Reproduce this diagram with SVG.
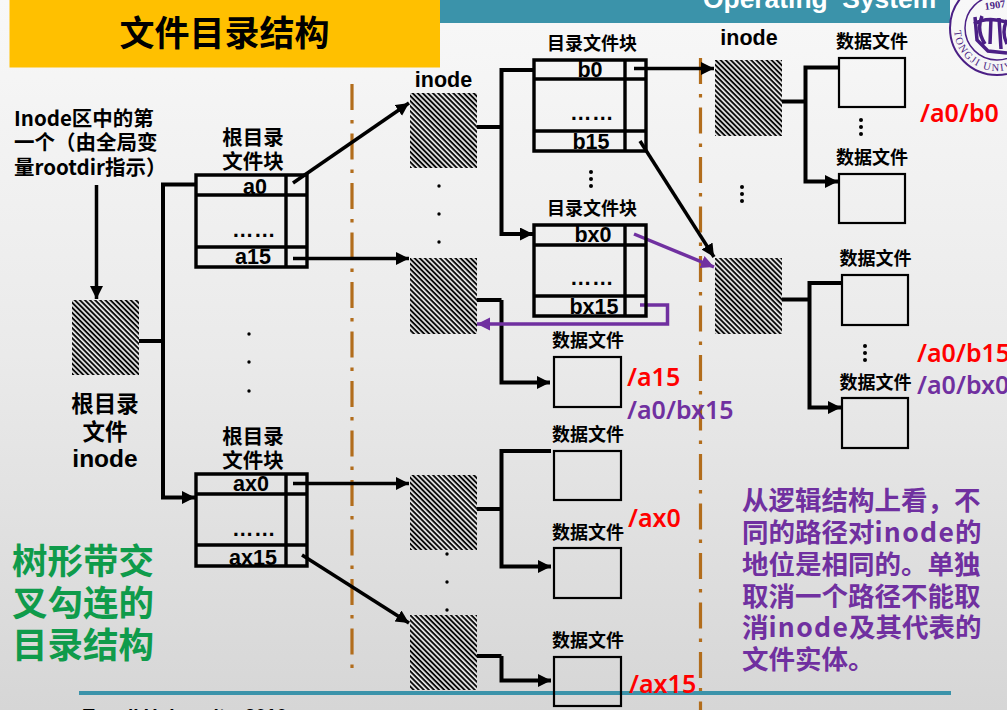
<svg xmlns="http://www.w3.org/2000/svg" width="1007" height="710" viewBox="0 0 1007 710">
<defs>
<linearGradient id="bg" x1="0" y1="0" x2="0" y2="1"><stop offset="0" stop-color="#f8f8f8"/><stop offset="0.5" stop-color="#eaeaea"/><stop offset="1" stop-color="#d6d6d6"/></linearGradient>
<pattern id="hatch" width="3.6" height="3.6" patternUnits="userSpaceOnUse" patternTransform="rotate(45)"><rect width="3.6" height="3.6" fill="#e8e8e8"/><rect width="3.6" height="1.9" y="0" fill="#0a0a0a"/></pattern>
<marker id="ah" markerUnits="userSpaceOnUse" markerWidth="15" markerHeight="14" refX="13" refY="6.500" orient="auto"><path d="M0 0L13 6.500L0 13Z" fill="#000"/></marker>
<marker id="ahp" markerUnits="userSpaceOnUse" markerWidth="15" markerHeight="14" refX="13" refY="6.500" orient="auto"><path d="M0 0L13 6.500L0 13Z" fill="#7030a0"/></marker>
<path id="arcB" d="M954 28A43 43 0 0 0 1040 28"/>
</defs>
<style>
text{font-family:"Noto Sans CJK SC","Liberation Sans",sans-serif;font-weight:700;fill:#000}
.hb{fill:url(#hatch)}
.tb{fill:none;stroke:#000;stroke-width:3.4}
.df{fill:none;stroke:#000;stroke-width:2.200}
.cn{fill:none;stroke:#000;stroke-width:3.500;marker-end:url(#ah)}
.ce{fill:none;stroke:#000;stroke-width:4;marker-end:url(#ah)}
.cnt{fill:none;stroke:#000;stroke-width:4}
.cp{fill:none;stroke:#7030a0;stroke-width:3.500;marker-end:url(#ahp)}
.axis{fill:none;stroke:#b26d1c;stroke-width:3.2;stroke-dasharray:26 10 3.5 10}
.lab{font-size:18px;text-anchor:middle}
.h2{font-size:20.500px;text-anchor:middle}
.cell{font-family:"Liberation Sans",sans-serif;font-size:21.500px;text-anchor:middle}
.dots{font-family:"Liberation Sans",sans-serif;font-size:21.500px;text-anchor:middle}
.in{font-family:"Liberation Sans",sans-serif}
.r,.p{font-family:"Noto Sans",sans-serif;font-weight:600;font-size:25px}
.r{fill:#ff0000}
.p{fill:#7030a0}
.body{fill:#7030a0;font-size:26.500px}
.g{fill:#0f9b4b;font-size:35.500px}
.dot{fill:#000}
.logo-t{fill:#4b1f85;font-family:"Liberation Serif",serif;font-weight:400;font-size:10.500px}
</style>
<rect width="1007" height="710" fill="url(#bg)"/>
<g id="header">
<rect x="440" y="0" width="510" height="23" fill="#3b93aa"/>
<text class="in" x="703" y="8" style="fill:#fff;font-size:26.400px" xml:space="preserve">Operating  System</text>
<rect x="9.500" y="0" width="430.500" height="67.500" fill="#ffc000"/>
<text x="224.500" y="46" text-anchor="middle" font-size="35">文件目录结构</text>
</g>
<g id="logo" fill="none" stroke="#4b1f85">
<circle cx="997" cy="28" r="47" stroke-width="2"/>
<circle cx="997" cy="28" r="32" stroke-width="1.500"/>
<path d="M975 17L977 40L988 51L1007 53M982 16Q976 30 985 44M991 18L990 44M999 18L1001 49M1007 20Q1001 32 1007 44M974 24Q986 16 1007 22" stroke-width="3.500"/>
<text class="logo-t" x="985" y="10" transform="rotate(-8 985 10)" stroke="none" style="font-weight:700">1907</text>
<text class="logo-t" stroke="none" letter-spacing="1.500"><textPath href="#arcB" startOffset="3">TONGJI UNIVERSITY</textPath></text>
</g>
<g id="axes">
<path class="axis" d="M352 84V668"/>
<path class="axis" d="M700.500 58V710"/>
</g>
<rect id="footer-rule" x="79" y="691" width="872" height="4" fill="#3b93aa"/>
<text id="footer" class="in" x="83" y="722" font-size="19">Tongji University, 2010</text>
<g id="connectors">
<path class="cn" d="M96.500 185V299"/>
<path class="cnt" d="M139 341H163"/>
<path class="ce" d="M195 184.500H163V497.500H195"/>
<path class="cn" d="M293 183L409 103"/>
<path class="cn" d="M293 258.500H409"/>
<path class="cn" d="M293 483.500H409"/>
<path class="cn" d="M302 555L409 623"/>
<path class="cnt" d="M477 127H501.500"/>
<path class="ce" d="M533 70H501.500V234H533"/>
<path class="cn" d="M634 68.500H714"/>
<path class="cn" d="M640 141L714 257"/>
<path class="cnt" d="M477 300H501.500"/>
<path class="ce" d="M501.500 300V382.500H550"/>
<path class="cnt" d="M477 509H501.500"/>
<path class="ce" d="M551 451H501.500V566.500H551"/>
<path class="cnt" d="M477 656H501.500"/>
<path class="ce" d="M501.500 656V680.500H551"/>
<path class="cnt" d="M782 101.500H805.500"/>
<path class="ce" d="M838 67.500H805.500V181.500H838"/>
<path class="cnt" d="M782 299.500H809.500"/>
<path class="ce" d="M841 283H809.500V407.500H841"/>
<path class="cp" d="M634 234L714 267"/>
<path class="cp" d="M640 305H667.500V324H477"/>
</g>
<g id="root-inode"><rect class="hb" x="72" y="300" width="67" height="75"/>
<text x="105" y="412" text-anchor="middle" font-size="22.500">根目录</text>
<text x="105" y="440" text-anchor="middle" font-size="22.500">文件</text>
<text class="in" x="105" y="467" text-anchor="middle" font-size="24.500">inode</text></g>
<g id="root-note" font-size="20.500">
<text x="14" y="126">Inode区中的第</text>
<text x="14" y="150">一个（由全局变</text>
<text x="14" y="175">量rootdir指示）</text>
</g>
<g id="dir-a"><text x="253" y="145" class="h2">根目录</text><text x="253" y="169" class="h2">文件块</text>
<path class="tb" d="M196 175H307V267H196ZM196 195H307M196 247H307M286 175V267"/>
<text x="255" y="194" class="cell">a0</text><text x="253" y="264" class="cell">a15</text><text x="254" y="237" class="dots" letter-spacing="0.500">……</text></g>
<g id="dir-ax"><text x="253" y="444" class="h2">根目录</text><text x="253" y="468" class="h2">文件块</text>
<path class="tb" d="M196 474H307V566H196ZM196 494H307M196 545H307M286 474V566"/>
<text x="251" y="491" class="cell">ax0</text><text x="253" y="565" class="cell">ax15</text><text x="254" y="536" class="dots" letter-spacing="0.500">……</text></g>
<g id="dir-b"><text x="592" y="50" class="lab">目录文件块</text>
<path class="tb" d="M534 60H646V151H534ZM534 79H646M534 131H646M625 60V151"/>
<text x="590" y="77" class="cell">b0</text><text x="591" y="149" class="cell">b15</text><text x="592" y="120" class="dots" letter-spacing="0.500">……</text></g>
<g id="dir-bx"><text x="592" y="215" class="lab">目录文件块</text>
<path class="tb" d="M534 225H646V316H534ZM534 245H646M534 296H646M625 225V316"/>
<text x="593" y="242" class="cell">bx0</text><text x="594" y="314" class="cell">bx15</text><text x="592" y="285" class="dots" letter-spacing="0.500">……</text></g>
<g id="inode-1"><text class="in" x="443.500" y="87" text-anchor="middle" font-size="21.500">inode</text><rect class="hb" x="410" y="93" width="67" height="75"/></g>
<g id="inode-2"><rect class="hb" x="410" y="258" width="67" height="76"/></g>
<g id="inode-3"><rect class="hb" x="410" y="475" width="67" height="75"/></g>
<g id="inode-4"><rect class="hb" x="410" y="615" width="67" height="75"/></g>
<g id="inode-5"><text class="in" x="749" y="45" text-anchor="middle" font-size="21.500">inode</text><rect class="hb" x="715" y="60" width="67" height="76"/></g>
<g id="inode-6"><rect class="hb" x="715" y="258" width="67" height="76"/></g>
<g id="file-1"><text x="872" y="48" class="lab">数据文件</text><rect class="df" x="839" y="58" width="66" height="49"/></g>
<g id="file-2"><text x="872" y="164" class="lab">数据文件</text><rect class="df" x="839" y="174" width="66" height="49"/></g>
<g id="file-3"><text x="875.500" y="265" class="lab">数据文件</text><rect class="df" x="842" y="275" width="66" height="50"/></g>
<g id="file-4"><text x="875.500" y="389" class="lab">数据文件</text><rect class="df" x="842" y="398" width="66" height="50"/></g>
<g id="file-5"><text x="588" y="347" class="lab">数据文件</text><rect class="df" x="554" y="357" width="67" height="50"/></g>
<g id="file-6"><text x="588" y="441" class="lab">数据文件</text><rect class="df" x="554" y="451" width="67" height="49"/></g>
<g id="file-7"><text x="588" y="539" class="lab">数据文件</text><rect class="df" x="554" y="548" width="67" height="50"/></g>
<g id="file-8"><text x="588" y="647" class="lab">数据文件</text><rect class="df" x="554" y="657" width="67" height="49"/></g>
<g id="ellipsis">
<circle class="dot" cx="249" cy="334" r="1.700"/><circle class="dot" cx="249" cy="362" r="1.700"/><circle class="dot" cx="249" cy="391" r="1.700"/>
<circle class="dot" cx="439" cy="186" r="1.700"/><circle class="dot" cx="439" cy="214" r="1.700"/><circle class="dot" cx="439" cy="242" r="1.700"/>
<circle class="dot" cx="447" cy="554" r="1.700"/><circle class="dot" cx="447" cy="582" r="1.700"/><circle class="dot" cx="447" cy="610" r="1.700"/>
<circle class="dot" cx="591" cy="172" r="2"/><circle class="dot" cx="591" cy="179" r="2"/><circle class="dot" cx="591" cy="186" r="2"/>
<circle class="dot" cx="742" cy="187" r="2"/><circle class="dot" cx="742" cy="194" r="2"/><circle class="dot" cx="742" cy="201" r="2"/>
<circle class="dot" cx="861" cy="120" r="2"/><circle class="dot" cx="861" cy="127" r="2"/><circle class="dot" cx="861" cy="134" r="2"/>
<circle class="dot" cx="865" cy="346" r="2"/><circle class="dot" cx="865" cy="353" r="2"/><circle class="dot" cx="865" cy="360" r="2"/>
</g>
<g id="paths">
<text class="r" x="920" y="122">/a0/b0</text>
<text class="r" x="917" y="362">/a0/b15</text>
<text class="p" x="917" y="394">/a0/bx0</text>
<text class="r" x="627" y="386">/a15</text>
<text class="p" x="627" y="419">/a0/bx15</text>
<text class="r" x="628" y="527">/ax0</text>
<text class="r" x="629" y="693">/ax15</text>
</g>
<g id="note-right">
<text class="body" x="742" y="510">从逻辑结构上看，不</text>
<text class="body" x="742" y="542">同的路径对<tspan letter-spacing="1.300">inode</tspan>的</text>
<text class="body" x="742" y="574">地位是相同的。单独</text>
<text class="body" x="742" y="606">取消一个路径不能取</text>
<text class="body" x="742" y="637">消<tspan letter-spacing="1.300">inode</tspan>及其代表的</text>
<text class="body" x="742" y="669">文件实体。</text>
</g>
<g id="note-left">
<text class="g" x="12" y="574">树形带交</text>
<text class="g" x="12" y="616">叉勾连的</text>
<text class="g" x="12" y="658">目录结构</text>
</g>
</svg>
